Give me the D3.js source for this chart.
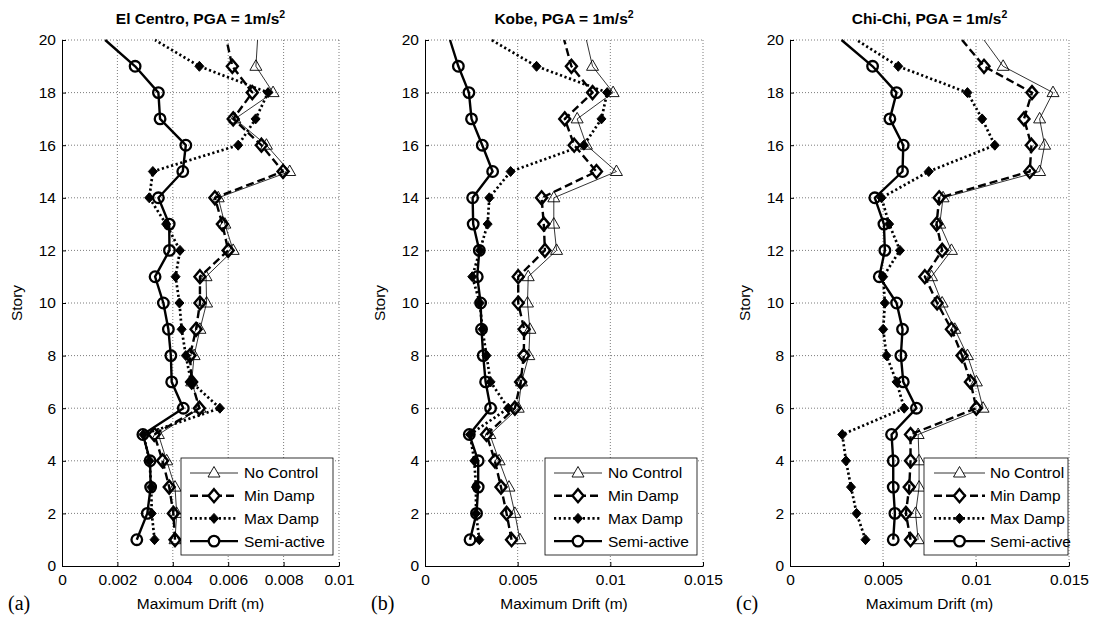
<!DOCTYPE html>
<html>
<head>
<meta charset="utf-8">
<script src="https://cdn.jsdelivr.net/npm/d3@7"></script>
<style>
  body { margin: 0; background: #fff; }
  text { font-family: Arial, "Liberation Sans", sans-serif; }
</style>
</head>
<body>
<svg id="chart" width="1093" height="618"></svg>
<script>
// story numbers (y values)
var stories = [1, 2, 3, 4, 5, 6, 7, 8, 9, 10, 11, 12, 13, 14, 15, 16, 17, 18, 19, 20];
var yTicks = [0, 2, 4, 6, 8, 10, 12, 14, 16, 18, 20];

var xTicksSmall = [0, 0.002, 0.004, 0.006, 0.008, 0.01];
var xLabelsSmall = ["0", "0.002", "0.004", "0.006", "0.008", "0.01"];
var xTicksLarge = [0, 0.005, 0.01, 0.015];
var xLabelsLarge = ["0", "0.005", "0.01", "0.015"];

var seriesNames = ["No Control", "Min Damp", "Max Damp", "Semi-active"];

// maximum drift (m), story 1 .. 20
var elCentroNoControl = [0.00408, 0.00414, 0.00408, 0.00378, 0.00348, 0.00498, 0.00468, 0.00477, 0.00498, 0.00522,
                         0.00520, 0.00618, 0.00588, 0.00564, 0.00822, 0.00738, 0.00624, 0.00762, 0.00700, 0.00706];
var elCentroMinDamp   = [0.00408, 0.00402, 0.00387, 0.00363, 0.00333, 0.00496, 0.00468, 0.00462, 0.00484, 0.00498,
                         0.00498, 0.00600, 0.00579, 0.00552, 0.00798, 0.00720, 0.00618, 0.00687, 0.00615, 0.00594];
var elCentroMaxDamp   = [0.00334, 0.00324, 0.00322, 0.00316, 0.00294, 0.00570, 0.00466, 0.00447, 0.00432, 0.00424,
                         0.00410, 0.00426, 0.00376, 0.00315, 0.00328, 0.00636, 0.00699, 0.00744, 0.00496, 0.00336];
var elCentroSemi      = [0.00270, 0.00308, 0.00320, 0.00318, 0.00292, 0.00438, 0.00396, 0.00393, 0.00384, 0.00366,
                         0.00336, 0.00388, 0.00387, 0.00348, 0.00436, 0.00447, 0.00354, 0.00348, 0.00264, 0.00156];

var kobeNoControl = [0.00512, 0.00485, 0.00453, 0.00400, 0.00350, 0.00503, 0.00521, 0.00560, 0.00566, 0.00553,
                     0.00557, 0.00710, 0.00695, 0.00695, 0.01033, 0.00871, 0.00821, 0.01015, 0.00904, 0.00871];
var kobeMinDamp   = [0.00467, 0.00440, 0.00410, 0.00377, 0.00332, 0.00485, 0.00516, 0.00533, 0.00535, 0.00503,
                     0.00503, 0.00647, 0.00641, 0.00629, 0.00925, 0.00805, 0.00754, 0.00904, 0.00790, 0.00751];
var kobeMaxDamp   = [0.00293, 0.00275, 0.00275, 0.00266, 0.00243, 0.00449, 0.00354, 0.00332, 0.00310, 0.00296,
                     0.00255, 0.00296, 0.00338, 0.00347, 0.00462, 0.00857, 0.00952, 0.00983, 0.00602, 0.00359];
var kobeSemi      = [0.00243, 0.00278, 0.00287, 0.00287, 0.00239, 0.00354, 0.00327, 0.00314, 0.00305, 0.00300,
                     0.00282, 0.00293, 0.00260, 0.00257, 0.00365, 0.00309, 0.00251, 0.00237, 0.00180, 0.00135];

var chiChiNoControl = [0.00689, 0.00675, 0.00694, 0.00694, 0.00689, 0.01038, 0.01002, 0.00954, 0.00886, 0.00818,
                       0.00761, 0.00868, 0.00805, 0.00823, 0.01342, 0.01369, 0.01342, 0.01414, 0.01146, 0.01043];
var chiChiMinDamp   = [0.00648, 0.00623, 0.00641, 0.00648, 0.00648, 0.01002, 0.00970, 0.00925, 0.00868, 0.00791,
                       0.00725, 0.00818, 0.00788, 0.00802, 0.01289, 0.01298, 0.01258, 0.01301, 0.01043, 0.00925];
var chiChiMaxDamp   = [0.00406, 0.00358, 0.00328, 0.00301, 0.00281, 0.00614, 0.00573, 0.00519, 0.00501, 0.00510,
                       0.00501, 0.00591, 0.00533, 0.00492, 0.00746, 0.01101, 0.01033, 0.00954, 0.00582, 0.00358];
var chiChiSemi      = [0.00555, 0.00564, 0.00555, 0.00555, 0.00546, 0.00680, 0.00609, 0.00596, 0.00605, 0.00573,
                       0.00480, 0.00510, 0.00505, 0.00456, 0.00605, 0.00609, 0.00537, 0.00573, 0.00444, 0.00277];

// line / marker styles, same order as seriesNames
var styles = [
  {width: 0.8, dash: null,      marker: "triangle", mfill: "none", mwidth: 0.9},
  {width: 2.4, dash: "8,4",     marker: "diamond",  mfill: "none", mwidth: 2.4},
  {width: 2.7, dash: "2.2,2.6", marker: "fdiamond", mfill: "#000", mwidth: 1},
  {width: 2.4, dash: null,      marker: "circle",   mfill: "none", mwidth: 2.3}
];

var panels = [
  {left: 62, right: 339, xMax: 0.01, xTicks: xTicksSmall, xLabels: xLabelsSmall,
   title: "El Centro, PGA = 1m/s", tag: "(a)",
   legend: {x: 181, w: 152, s0: 190, s1: 238, tx: 244},
   data: [elCentroNoControl, elCentroMinDamp, elCentroMaxDamp, elCentroSemi]},
  {left: 425, right: 703, xMax: 0.015, xTicks: xTicksLarge, xLabels: xLabelsLarge,
   title: "Kobe, PGA = 1m/s", tag: "(b)",
   legend: {x: 545, w: 152, s0: 554, s1: 602, tx: 608},
   data: [kobeNoControl, kobeMinDamp, kobeMaxDamp, kobeSemi]},
  {left: 790, right: 1069, xMax: 0.015, xTicks: xTicksLarge, xLabels: xLabelsLarge,
   title: "Chi-Chi, PGA = 1m/s", tag: "(c)",
   legend: {x: 924, w: 144, s0: 934, s1: 985, tx: 990},
   data: [chiChiNoControl, chiChiMinDamp, chiChiMaxDamp, chiChiSemi]}
];

var plotTop = 40, plotBottom = 566;

function markerPath(kind){
  if(kind == "triangle") return "M0,-6.5L6,4L-6,4Z";
  if(kind == "diamond") return "M0,-6.5L5.5,0L0,6.5L-5.5,0Z";
  if(kind == "fdiamond") return "M0,-5L4.5,0L0,5L-4.5,0Z";
  return d3.symbol().type(d3.symbolCircle).size(Math.PI * 5.3 * 5.3)();
}

function drawPanel(svg, p){
  var x = d3.scaleLinear().domain([0, p.xMax]).range([p.left, p.right]);
  var y = d3.scaleLinear().domain([0, 20]).range([plotBottom, plotTop]);

  // dotted grid
  var grid = svg.append("g")
    .attr("stroke", "#444")
    .attr("stroke-width", 0.7)
    .attr("stroke-dasharray", "1,2");
  grid.selectAll(".vg")
    .data(p.xTicks.slice(1))
    .enter().append("line")
    .attr("x1", d => x(d)).attr("x2", d => x(d))
    .attr("y1", plotTop).attr("y2", plotBottom);
  grid.selectAll(".hg")
    .data(yTicks.slice(1))
    .enter().append("line")
    .attr("x1", p.left).attr("x2", p.right)
    .attr("y1", d => y(d)).attr("y2", d => y(d));

  // axes, ticks pointing inward
  var yAxis = svg.append("g")
    .attr("transform", "translate(" + p.left + ",0)")
    .call(d3.axisLeft(y).tickValues(yTicks).tickSize(-4).tickSizeOuter(0).tickPadding(6));
  var xAxis = svg.append("g")
    .attr("transform", "translate(0," + plotBottom + ")")
    .call(d3.axisBottom(x).tickValues(p.xTicks).tickSize(-4).tickSizeOuter(0).tickPadding(8)
      .tickFormat((d, i) => p.xLabels[i]));
  [yAxis, xAxis].forEach(function(a){
    a.attr("font-size", 15.5);
    a.selectAll("path, line").attr("stroke", "#000");
  });

  var line = d3.line()
    .x(d => x(d.v))
    .y(d => y(d.s));

  p.data.forEach(function(values, k){
    var st = styles[k];
    var pts = stories.map((s, i) => ({s: s, v: values[i]}));
    svg.append("path")
      .attr("d", line(pts))
      .attr("fill", "none")
      .attr("stroke", "#000")
      .attr("stroke-width", st.width)
      .attr("stroke-dasharray", st.dash)
      .attr("stroke-linejoin", "round");
    // markers are not shown at the top edge (story 20)
    svg.selectAll(null)
      .data(pts.filter(d => d.s < 20))
      .enter().append("path")
      .attr("transform", d => "translate(" + x(d.v) + "," + y(d.s) + ")")
      .attr("d", markerPath(st.marker))
      .attr("fill", st.mfill)
      .attr("stroke", "#000")
      .attr("stroke-width", st.mwidth);
  });

  // legend
  var lg = p.legend, ly = 458;
  svg.append("rect")
    .attr("x", lg.x).attr("y", ly)
    .attr("width", lg.w).attr("height", 97)
    .attr("fill", "#fff").attr("stroke", "#000").attr("stroke-width", 0.8);
  seriesNames.forEach(function(name, k){
    var st = styles[k];
    var ry = ly + 15 + k * 22.7;
    svg.append("line")
      .attr("x1", lg.s0).attr("x2", lg.s1)
      .attr("y1", ry).attr("y2", ry)
      .attr("stroke", "#000")
      .attr("stroke-width", st.width)
      .attr("stroke-dasharray", st.dash);
    svg.append("path")
      .attr("transform", "translate(" + ((lg.s0 + lg.s1) / 2) + "," + ry + ")")
      .attr("d", markerPath(st.marker))
      .attr("fill", st.mfill == "none" ? "#fff" : st.mfill)
      .attr("stroke", "#000")
      .attr("stroke-width", st.mwidth);
    svg.append("text")
      .attr("x", lg.tx).attr("y", ry)
      .attr("dy", "0.35em")
      .attr("font-size", 15.5)
      .text(name);
  });

  // title with superscript
  var t = svg.append("text")
    .attr("x", (p.left + p.right) / 2).attr("y", 24)
    .attr("text-anchor", "middle")
    .attr("font-size", 15.5)
    .attr("font-weight", "bold")
    .text(p.title);
  t.append("tspan").attr("dy", -6).attr("font-size", 10.5).text("2");

  svg.append("text")
    .attr("x", (p.left + p.right) / 2).attr("y", 609)
    .attr("text-anchor", "middle")
    .attr("font-size", 15.5)
    .text("Maximum Drift (m)");

  svg.append("text")
    .attr("transform", "translate(" + (p.left - 45) + "," + ((plotTop + plotBottom) / 2) + ") rotate(-90)")
    .attr("text-anchor", "middle")
    .attr("dy", "0.35em")
    .attr("font-size", 15.5)
    .text("Story");

  svg.append("text")
    .attr("x", p.left - 54).attr("y", 610)
    .style("font-family", "'Times New Roman', 'Liberation Serif', serif")
    .attr("font-size", 20)
    .text(p.tag);
}

var svg = d3.select("#chart");
svg.append("rect").attr("width", 1093).attr("height", 618).attr("fill", "#fff");
panels.forEach(p => drawPanel(svg, p));
</script>
</body>
</html>
